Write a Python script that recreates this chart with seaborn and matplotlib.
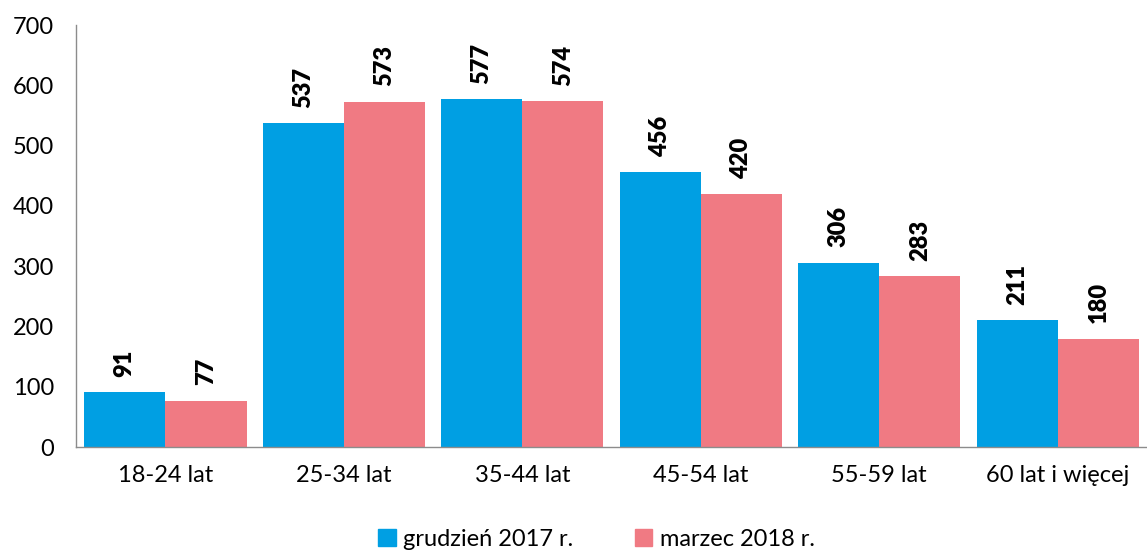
import numpy as np
import pandas as pd
import matplotlib
matplotlib.use("Agg")
import matplotlib.pyplot as plt
import seaborn as sns

categories = ["18-24 lat", "25-34 lat", "35-44 lat", "45-54 lat", "55-59 lat", "60 lat i więcej"]
series_names = ["grudzień 2017 r.", "marzec 2018 r."]
dec_2017 = [91, 537, 577, 456, 306, 211]
mar_2018 = [77, 573, 574, 420, 283, 180]
colors = ["#009FE3", "#F07A83"]
y_ticks = [0, 100, 200, 300, 400, 500, 600, 700]

df = pd.DataFrame({
    "kategoria": categories * 2,
    "okres": [series_names[0]] * len(categories) + [series_names[1]] * len(categories),
    "wartosc": dec_2017 + mar_2018,
})

sns.set_style("white")
plt.rcParams["font.family"] = ["Lato", "DejaVu Sans"]
plt.rcParams["text.color"] = "black"
plt.rcParams["xtick.labelcolor"] = "black"
plt.rcParams["ytick.labelcolor"] = "black"

fig = plt.figure(figsize=(11.47, 5.56), dpi=100)
ax = fig.add_axes([0.0663, 0.196, 0.9337, 0.759])

sns.barplot(data=df, x="kategoria", y="wartosc", hue="okres", palette=colors,
            width=0.91, gap=0, saturation=1, linewidth=0, ax=ax, legend=False)

# value labels, rotated
for container in ax.containers:
    ax.bar_label(container, labels=[f"{v:.0f}" for v in container.datavalues],
                 rotation=90, padding=11, fontsize=17, fontweight="heavy", color="black")

ax.set_ylim(0, 700)
ax.set_yticks(y_ticks)
ax.set_xlim(-0.5, len(categories) - 0.5)
ax.set_xlabel("")
ax.set_ylabel("")

# category separators as ticks
ax.set_xticks(np.arange(len(categories)))
ax.set_xticklabels(categories)
ax.set_xticks(np.arange(-0.5, len(categories), 1.0), minor=True)
ax.tick_params(axis="x", which="major", length=0, pad=13, labelsize=17)
ax.tick_params(axis="x", which="minor", length=7, width=1, color="#8c8c8c", direction="out")
ax.tick_params(axis="y", length=7, width=1, color="#8c8c8c", direction="out", pad=9, labelsize=17)

for side in ["top", "right"]:
    ax.spines[side].set_visible(False)
for side in ["left", "bottom"]:
    ax.spines[side].set_color("#8c8c8c")
    ax.spines[side].set_linewidth(1)

handles = [plt.Rectangle((0, 0), 1, 1, color=c) for c in colors]
fig.legend(handles, series_names, loc="center", bbox_to_anchor=(0.52, 0.03),
           ncol=2, frameon=False, fontsize=17, handlelength=0.75, handleheight=0.75,
           handletextpad=0.3, columnspacing=2.6)

fig.savefig("out.png", dpi=100)
